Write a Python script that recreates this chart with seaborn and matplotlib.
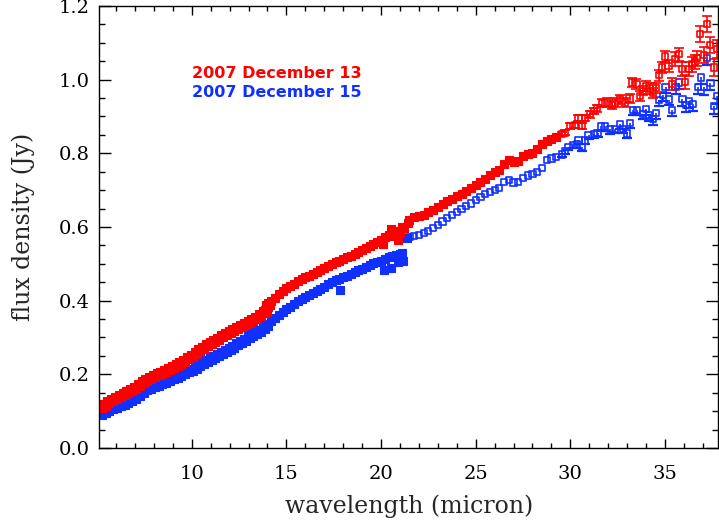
import matplotlib
matplotlib.use("Agg")
import matplotlib.pyplot as plt
from matplotlib.ticker import MultipleLocator
import seaborn as sns
import pandas as pd

# 2007 December 13 (red)
wave_dec13 = [5.2, 5.4, 5.6, 5.8, 6.0, 6.2, 6.4, 6.6, 6.8, 7.0, 7.2, 7.4, 7.6, 7.8, 8.0,
              8.2, 8.4, 8.6, 8.8, 9.0, 9.2, 9.4, 9.6, 9.8, 10.0, 10.2, 10.4, 10.6, 10.8,
              11.0, 11.2, 11.4, 11.6, 11.8, 12.0, 12.2, 12.4, 12.6, 12.8, 13.0, 13.2, 13.4,
              13.6, 13.8, 13.9, 14.0, 14.1,
              14.2, 14.4, 14.6, 14.8, 15.0, 15.2, 15.4, 15.6, 15.8, 16.0, 16.2, 16.4, 16.6,
              16.8, 17.0, 17.2, 17.4, 17.6, 17.8, 18.0, 18.2, 18.4, 18.6, 18.8, 19.0, 19.2,
              19.4, 19.6, 19.8, 20.0, 20.1, 20.2, 20.4, 20.5, 20.6, 20.8, 20.9, 21.0, 21.1,
              21.2, 21.4,
              21.5, 21.75, 22.0, 22.25, 22.5, 22.75, 23.0, 23.25, 23.5, 23.75, 24.0, 24.25,
              24.5, 24.75, 25.0, 25.25, 25.5, 25.75, 26.0, 26.25, 26.5, 26.75, 27.0, 27.25,
              27.5, 27.75, 28.0, 28.25, 28.5, 28.75, 29.0, 29.25,
              29.54, 29.73, 30.0, 30.26, 30.43, 30.61, 30.79, 31.05, 31.23, 31.4, 31.67,
              31.93, 32.2, 32.37, 32.64, 32.9, 33.13, 33.26, 33.49, 33.69, 33.84, 34.01,
              34.22, 34.37, 34.52, 34.7, 34.84, 35.01, 35.19, 35.37, 35.54, 35.72, 35.9,
              36.07, 36.25, 36.42, 36.6, 36.69, 36.87, 37.04, 37.22, 37.39, 37.57, 37.75]
flux_dec13 = [0.112, 0.118, 0.124, 0.131, 0.136, 0.141, 0.147, 0.152, 0.158, 0.164, 0.171,
              0.178, 0.184, 0.19, 0.195, 0.2, 0.204, 0.209, 0.214, 0.219, 0.224, 0.23, 0.237,
              0.244, 0.251, 0.258, 0.265, 0.272, 0.279, 0.285, 0.291, 0.297, 0.303, 0.309,
              0.314, 0.319, 0.325, 0.331, 0.337, 0.342, 0.348, 0.354, 0.361, 0.369, 0.372,
              0.385, 0.392,
              0.398, 0.408, 0.418, 0.427, 0.433, 0.44, 0.446, 0.452, 0.458, 0.463, 0.467,
              0.472, 0.477, 0.483, 0.489, 0.495, 0.5, 0.505, 0.509, 0.513, 0.518, 0.522,
              0.527, 0.532, 0.537, 0.542, 0.548, 0.554, 0.56, 0.566, 0.555, 0.572, 0.578,
              0.595, 0.575, 0.59, 0.565, 0.584, 0.6, 0.596, 0.61,
              0.618, 0.627, 0.63, 0.633, 0.64, 0.647, 0.653, 0.662, 0.67, 0.677, 0.683,
              0.69, 0.697, 0.705, 0.714, 0.723, 0.731, 0.74, 0.748, 0.755, 0.77, 0.781,
              0.776, 0.778, 0.792, 0.797, 0.801, 0.812, 0.825, 0.833, 0.838, 0.843,
              0.852, 0.856, 0.874, 0.876, 0.895, 0.874, 0.895, 0.906, 0.915, 0.922, 0.936,
              0.938, 0.931, 0.938, 0.947, 0.938, 0.949, 0.992, 0.988, 0.956, 0.97, 0.983,
              0.976, 0.963, 0.977, 1.012, 1.033, 1.063, 1.036, 0.988, 1.056, 1.069, 1.029,
              0.994, 1.029, 1.042, 1.048, 1.058, 1.124, 1.067, 1.151, 1.094, 1.033, 1.083]
# errors of the long-wavelength tail (last points of the list above)
err_dec13 = [0.006, 0.006, 0.007, 0.007, 0.008, 0.008, 0.008, 0.009, 0.009, 0.01, 0.011,
             0.011, 0.011, 0.011, 0.012, 0.012, 0.012, 0.013, 0.013, 0.013, 0.013, 0.014,
             0.014, 0.014, 0.014, 0.015, 0.015, 0.016, 0.016, 0.016, 0.018, 0.018, 0.018,
             0.019, 0.019, 0.02, 0.02, 0.02, 0.023, 0.022, 0.021, 0.022, 0.023, 0.024]

# 2007 December 15 (blue)
wave_dec15 = [5.2, 5.4, 5.6, 5.8, 6.0, 6.2, 6.4, 6.6, 6.8, 7.0, 7.2, 7.4, 7.6, 7.8, 8.0,
              8.2, 8.4, 8.6, 8.8, 9.0, 9.2, 9.4, 9.6, 9.8, 10.0, 10.2, 10.4, 10.6, 10.8,
              11.0, 11.2, 11.4, 11.6, 11.8, 12.0, 12.2, 12.4, 12.6, 12.8, 13.0, 13.2, 13.4,
              13.6, 13.8, 14.0,
              14.2, 14.4, 14.6, 14.8, 15.0, 15.2, 15.4, 15.6, 15.8, 16.0, 16.2, 16.4, 16.6,
              16.8, 17.0, 17.2, 17.4, 17.6, 17.8, 17.84, 18.0, 18.2, 18.4, 18.6, 18.8, 19.0,
              19.2, 19.4, 19.6, 19.8, 20.0, 20.13, 20.2, 20.4, 20.5, 20.6, 20.8, 20.9, 21.0,
              21.1, 21.18, 21.35,
              21.5, 21.75, 22.0, 22.25, 22.5, 22.75, 23.0, 23.25, 23.5, 23.75, 24.0, 24.25,
              24.5, 24.75, 25.0, 25.25, 25.5, 25.75, 26.0, 26.25, 26.5, 26.75, 27.0, 27.25,
              27.5, 27.75, 28.0, 28.25, 28.5, 28.75, 29.0, 29.25,
              29.56, 29.73, 29.9, 30.14, 30.35, 30.43, 30.61, 30.79, 30.96, 31.23, 31.44,
              31.62, 31.85, 32.11, 32.34, 32.64, 32.78, 32.99, 33.17, 33.31, 33.52, 33.84,
              34.0, 34.17, 34.37, 34.52, 34.7, 34.88, 35.03, 35.21, 35.38, 35.56, 35.73,
              35.92, 36.1, 36.28, 36.46, 36.75, 36.9, 37.07, 37.23, 37.4, 37.6, 37.76]
flux_dec15 = [0.092, 0.097, 0.103, 0.108, 0.112, 0.116, 0.12, 0.125, 0.131, 0.137, 0.144,
              0.152, 0.159, 0.163, 0.167, 0.171, 0.176, 0.18, 0.185, 0.19, 0.194, 0.199,
              0.204, 0.209, 0.213, 0.218, 0.224, 0.23, 0.236, 0.242, 0.248, 0.253, 0.258,
              0.263, 0.269, 0.275, 0.281, 0.288, 0.294, 0.3, 0.306, 0.312, 0.318, 0.325,
              0.335,
              0.345, 0.352, 0.36, 0.368, 0.376, 0.384, 0.392, 0.399, 0.405, 0.41, 0.415,
              0.42, 0.425, 0.431, 0.438, 0.445, 0.451, 0.456, 0.46, 0.428, 0.464, 0.468,
              0.472, 0.477, 0.482, 0.487, 0.492, 0.497, 0.501, 0.505, 0.509, 0.482, 0.513,
              0.518, 0.49, 0.52, 0.524, 0.505, 0.528, 0.53, 0.507, 0.571,
              0.572, 0.576, 0.579, 0.584, 0.59, 0.597, 0.606, 0.615, 0.624, 0.632, 0.64,
              0.648, 0.656, 0.664, 0.673, 0.682, 0.69, 0.696, 0.701, 0.706, 0.722, 0.728,
              0.721, 0.722, 0.733, 0.74, 0.744, 0.749, 0.76, 0.782, 0.786, 0.79,
              0.797, 0.806, 0.817, 0.823, 0.824, 0.835, 0.817, 0.835, 0.85, 0.853, 0.856,
              0.873, 0.873, 0.865, 0.867, 0.879, 0.867, 0.854, 0.882, 0.918, 0.918, 0.906,
              0.92, 0.903, 0.893, 0.909, 0.944, 0.958, 0.979, 0.946, 0.918, 0.979, 0.992,
              0.947, 0.931, 0.942, 0.933, 0.979, 1.006, 0.979, 1.059, 0.991, 0.929, 0.956]
err_dec15 = [0.008, 0.008, 0.009, 0.009, 0.01, 0.01, 0.01, 0.01, 0.011, 0.011, 0.011,
             0.012, 0.012, 0.012, 0.012, 0.013, 0.013, 0.013, 0.014, 0.014, 0.014, 0.014,
             0.015, 0.015, 0.015, 0.015, 0.016, 0.016, 0.016, 0.016, 0.017, 0.017, 0.017,
             0.018, 0.018, 0.018, 0.018, 0.019, 0.019, 0.02, 0.02, 0.02, 0.021, 0.021]

red = "#ff0000"
blue = "#1030ff"

sns.set_style("ticks")
plt.rcParams["font.family"] = ["DejaVu Serif"]

df13 = pd.DataFrame({"wavelength": wave_dec13, "flux": flux_dec13})
df15 = pd.DataFrame({"wavelength": wave_dec15, "flux": flux_dec15})

fig = plt.figure(figsize=(7.19, 5.25), dpi=100)
ax = fig.add_axes([0.1377, 0.1467, 0.8609, 0.8419])

# (data, tail errors, colour, wavelength where the solid band ends)
series = [(df15, err_dec15, blue, 21.45), (df13, err_dec13, red, 29.45)]
for df, err, col, solid_end in series:
    sl = df[df["wavelength"] < 14.15]
    ll = df[(df["wavelength"] >= 14.15) & (df["wavelength"] < solid_end)]
    rest = df[df["wavelength"] >= solid_end]
    sns.scatterplot(data=sl, x="wavelength", y="flux", ax=ax, marker="s", s=50,
                    color=col, edgecolor=col, linewidth=0.8, legend=False)
    sns.scatterplot(data=ll, x="wavelength", y="flux", ax=ax, marker="s", s=38,
                    color=col, edgecolor=col, linewidth=0.8, legend=False)
    sns.scatterplot(data=rest, x="wavelength", y="flux", ax=ax, marker="s", s=20,
                    facecolors="none", edgecolor=col, linewidth=1.2, legend=False)
    tail = df.iloc[len(df) - len(err):]
    if col == red:
        ax.errorbar(tail["wavelength"], tail["flux"], yerr=err, fmt="none",
                    ecolor=col, elinewidth=1.2, capsize=3.5, capthick=1.2)
    else:
        # only the lower half of the bar shows for this epoch
        ax.errorbar(tail["wavelength"], tail["flux"], yerr=[err, [0] * len(err)],
                    fmt="none", ecolor=col, elinewidth=1.2, capsize=0)
        low = pd.DataFrame({"wavelength": tail["wavelength"].values,
                            "flux": tail["flux"].values - pd.Series(err).values})
        sns.scatterplot(data=low, x="wavelength", y="flux", ax=ax, marker="_", s=45,
                        color=col, linewidth=1.6, legend=False)

ax.set_xlim(5.1, 37.8)
ax.set_ylim(0, 1.2)
ax.xaxis.set_major_locator(MultipleLocator(5))
ax.xaxis.set_minor_locator(MultipleLocator(1))
ax.yaxis.set_major_locator(MultipleLocator(0.2))
ax.yaxis.set_minor_locator(MultipleLocator(0.05))
ax.yaxis.set_major_formatter(matplotlib.ticker.FormatStrFormatter("%.1f"))
ax.tick_params(axis="both", which="both", direction="in", top=True, right=True,
               colors="black", labelsize=14, width=1.0)
ax.tick_params(axis="x", which="major", length=6.5, pad=12)
ax.tick_params(axis="x", which="minor", length=3.3)
ax.tick_params(axis="y", which="major", length=8.5, pad=7)
ax.tick_params(axis="y", which="minor", length=4.3)
for sp in ax.spines.values():
    sp.set_visible(True)
    sp.set_linewidth(1.0)
    sp.set_color("black")

ax.set_xlabel("wavelength (micron)", fontsize=17)
ax.set_ylabel("flux density (Jy)", fontsize=17)
ax.xaxis.set_label_coords(0.5016, -0.105)
ax.yaxis.set_label_coords(-0.103, 0.5)

ax.text(0.150, 0.848, "2007 December 13", transform=ax.transAxes, color=red,
        fontsize=11.5, fontweight="bold", family="DejaVu Sans", va="center")
ax.text(0.150, 0.805, "2007 December 15", transform=ax.transAxes, color=blue,
        fontsize=11.5, fontweight="bold", family="DejaVu Sans", va="center")

fig.savefig("out.png", dpi=100)
